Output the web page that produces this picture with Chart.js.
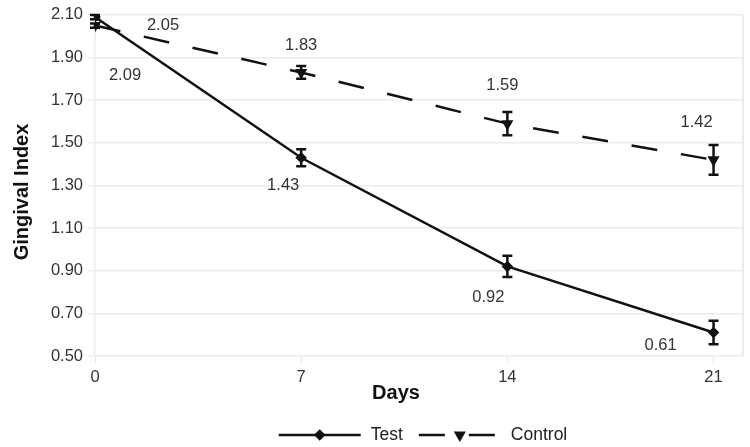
<!DOCTYPE html>
<html>
<head>
<meta charset="utf-8">
<script src="https://cdn.jsdelivr.net/npm/chart.js@4.4.1/dist/chart.umd.min.js"></script>
<style>
    html, body { margin: 0; padding: 0; background: #fff; }
    #wrap { width: 750px; height: 447px; }
</style>
</head>
<body>
<div id="wrap"><canvas id="myChart"></canvas></div>
<script>
var days = [0, 7, 14, 21];
var testValues = [2.09, 1.43, 0.92, 0.61];
var testErrors = [0.01, 0.04, 0.05, 0.055];
var controlValues = [2.05, 1.83, 1.59, 1.42];
var controlErrors = [0.01, 0.03, 0.055, 0.07];
var yTickValues = [0.50, 0.70, 0.90, 1.10, 1.30, 1.50, 1.70, 1.90, 2.10];
var xTitle = 'Days';
var yTitle = 'Gingival Index';

var FONT = "'Liberation Sans', Arial, sans-serif";

// where each value label sits relative to its point (Excel-style manual placement)
var labelOffsets = [
    [[30, 58], [-18, 28], [-19, 31], [-53, 13]],
    [[68, 0], [0, -27], [-5, -38], [-17, -37]]
];

var errorBars = {
    id: 'errorBars',
    afterDatasetsDraw: function (chart) {
        var ctx = chart.ctx;
        var y = chart.scales.y;
        ctx.save();
        ctx.strokeStyle = '#111';
        ctx.lineWidth = 2.5;
        chart.data.datasets.forEach(function (ds, di) {
            var meta = chart.getDatasetMeta(di);
            meta.data.forEach(function (pt, i) {
                var v = ds.data[i].y;
                var e = ds.errors[i];
                var top = y.getPixelForValue(v + e);
                var bot = y.getPixelForValue(v - e);
                ctx.beginPath();
                ctx.moveTo(pt.x, top); ctx.lineTo(pt.x, bot);
                ctx.moveTo(pt.x - 5, top); ctx.lineTo(pt.x + 5, top);
                ctx.moveTo(pt.x - 5, bot); ctx.lineTo(pt.x + 5, bot);
                ctx.stroke();
            });
        });
        // value labels
        ctx.fillStyle = '#333';
        ctx.font = '16.5px ' + FONT;
        ctx.textAlign = 'center';
        ctx.textBaseline = 'middle';
        chart.data.datasets.forEach(function (ds, di) {
            var meta = chart.getDatasetMeta(di);
            meta.data.forEach(function (pt, i) {
                var off = labelOffsets[di][i];
                ctx.fillText(ds.data[i].y.toFixed(2), pt.x + off[0], pt.y + off[1]);
            });
        });
        // right border of plot area
        var a = chart.chartArea;
        ctx.strokeStyle = '#e6e6e6';
        ctx.lineWidth = 1.5;
        ctx.beginPath();
        ctx.moveTo(a.right, a.top); ctx.lineTo(a.right, a.bottom);
        ctx.stroke();
        ctx.restore();
    }
};

// axis titles and legend (line + marker swatches like the original)
var titlesAndLegend = {
    id: 'titlesAndLegend',
    afterDraw: function (chart) {
        var ctx = chart.ctx;
        var a = chart.chartArea;
        ctx.save();
        ctx.fillStyle = '#111';
        ctx.font = 'bold 20px ' + FONT;
        ctx.textAlign = 'center';
        ctx.textBaseline = 'middle';
        ctx.fillText(xTitle, 396, 393);
        ctx.save();
        ctx.translate(22, 192);
        ctx.rotate(-Math.PI / 2);
        ctx.fillText(yTitle, 0, 0);
        ctx.restore();

        var ly = 435;
        ctx.font = '17.5px ' + FONT;
        var items = chart.data.datasets.map(function (ds) {
            return { ds: ds, w: 82 + 10 + ctx.measureText(ds.label).width };
        });
        var gap = 16;
        var total = items.reduce(function (s, it) { return s + it.w; }, 0) + gap * (items.length - 1);
        var x = (a.left + a.right) / 2 + 4 - total / 2;
        items.forEach(function (it) {
            var ds = it.ds;
            ctx.strokeStyle = ds.borderColor;
            ctx.lineWidth = ds.borderWidth;
            ctx.setLineDash(ds.borderDash || []);
            ctx.beginPath();
            ctx.moveTo(x, ly); ctx.lineTo(x + 82, ly);
            ctx.stroke();
            ctx.setLineDash([]);
            ctx.fillStyle = '#111';
            Chart.helpers.drawPoint(ctx, {
                pointStyle: ds.pointStyle,
                radius: ds.pointRadius,
                rotation: ds.pointRotation || 0,
                borderWidth: 1
            }, x + 41, ly);
            ctx.fillStyle = '#222';
            ctx.textAlign = 'left';
            ctx.fillText(ds.label, x + 92, ly);
            x += it.w + gap;
        });
        ctx.restore();
    }
};

function toPoints(vals) {
    return days.map(function (d, i) { return { x: d, y: vals[i] }; });
}

var ctx = document.getElementById('myChart').getContext('2d');
var chart = new Chart(ctx, {
    type: 'line',
    data: {
        datasets: [{
            label: 'Test',
            data: toPoints(testValues),
            errors: testErrors,
            borderColor: '#111',
            backgroundColor: '#111',
            borderWidth: 2.5,
            pointStyle: 'rectRot',
            pointRadius: 4,
            pointBackgroundColor: '#111',
            pointBorderColor: '#111'
        }, {
            label: 'Control',
            data: toPoints(controlValues),
            errors: controlErrors,
            borderColor: '#111',
            backgroundColor: '#111',
            borderWidth: 2.5,
            borderDash: [26, 24],
            pointStyle: 'triangle',
            pointRotation: 180,
            pointRadius: 4.5,
            pointBackgroundColor: '#111',
            pointBorderColor: '#111'
        }]
    },
    options: {
        responsive: true,
        maintainAspectRatio: false,
        animation: false,
        layout: { padding: { top: 13, right: 7, bottom: 55.5, left: 0 } },
        plugins: {
            legend: { display: false },
            tooltip: { enabled: false }
        },
        scales: {
            x: {
                type: 'linear',
                min: 0,
                max: 22,
                afterBuildTicks: function (scale) {
                    scale.ticks = days.map(function (d) { return { value: d }; });
                },
                grid: { drawOnChartArea: false, drawTicks: true, tickLength: 7, color: '#e6e6e6' },
                border: { display: false },
                ticks: {
                    padding: 6,
                    color: '#333',
                    maxRotation: 0,
                    font: { family: FONT, size: 16.5, lineHeight: 1 }
                }
            },
            y: {
                min: 0.5,
                max: 2.1,
                afterBuildTicks: function (scale) {
                    scale.ticks = yTickValues.map(function (v) { return { value: v }; });
                },
                afterFit: function (scale) { scale.width = 95; },
                grid: { color: '#ebebeb', lineWidth: 1.5, tickLength: 7 },
                border: { display: true, color: '#ebebeb', width: 1.5 },
                ticks: {
                    padding: 5,
                    color: '#333',
                    font: { family: FONT, size: 16.5 },
                    callback: function (v) { return Number(v).toFixed(2); }
                }
            }
        }
    },
    plugins: [errorBars, titlesAndLegend]
});
</script>
</body>
</html>
